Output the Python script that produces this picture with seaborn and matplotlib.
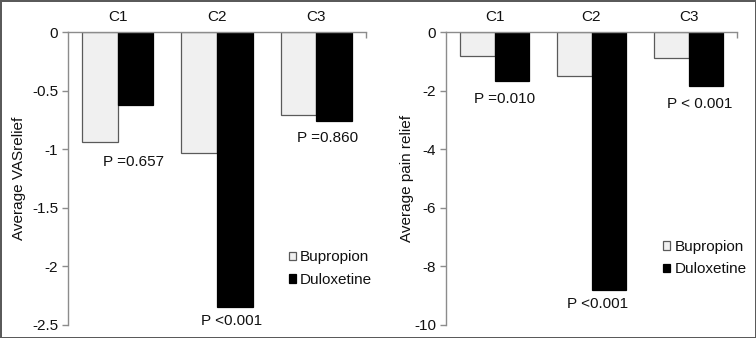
import numpy as np
import pandas as pd
import matplotlib
matplotlib.use("Agg")
import matplotlib.pyplot as plt
from matplotlib.ticker import FuncFormatter, MultipleLocator
import seaborn as sns

# data
conditions = ["C1", "C2", "C3"]
drugs = ["Bupropion", "Duloxetine"]
vas_bupropion = [-0.94, -1.03, -0.71]
vas_duloxetine = [-0.62, -2.35, -0.76]
pain_bupropion = [-0.81, -1.50, -0.88]
pain_duloxetine = [-1.67, -8.81, -1.84]
vas_pvalues = ["P =0.657", "P <0.001", "P =0.860"]
pain_pvalues = ["P =0.010", "P <0.001", "P < 0.001"]

sns.set_style("white")
plt.rcParams["font.family"] = ["Liberation Sans", "DejaVu Sans"]
FS = 11

TXT = "#111111"
AXC = "#8c8c8c"
colors = {"Bupropion": "#f0f0f0", "Duloxetine": "#000000"}


def make_frame(bup, dul):
    rows = []
    for c, b, d in zip(conditions, bup, dul):
        rows.append((c, "Bupropion", b))
        rows.append((c, "Duloxetine", d))
    return pd.DataFrame(rows, columns=["cond", "drug", "value"])


fig = plt.figure(figsize=(7.56, 3.38), dpi=100, linewidth=2, edgecolor="#5a5a5a")
ax1 = fig.add_axes([68 / 756, 13 / 338, 298 / 756, 293 / 338])
ax2 = fig.add_axes([446 / 756, 13 / 338, 291 / 756, 293 / 338])

panels = [
    # ax, bup, dul, ylabel, ylim, step, pvalue texts, text spots, legend spot, label x
    (ax1, vas_bupropion, vas_duloxetine, "Average VASrelief", -2.5, 0.5, vas_pvalues,
     [(0.16, -1.11), (1.15, -2.47), (2.11, -0.905)], (0.74, 0.255), -0.14),
    (ax2, pain_bupropion, pain_duloxetine, "Average pain relief", -10, 2, pain_pvalues,
     [(0.10, -2.30), (1.06, -9.28), (2.12, -2.46)], (0.745, 0.29), -0.11),
]

for ax, bup, dul, ylab, ymin, step, ptxt, spots, legpos, labx in panels:
    df = make_frame(bup, dul)
    sns.barplot(data=df, x="cond", y="value", hue="drug", order=conditions,
                hue_order=drugs, palette=colors, width=0.72, saturation=1,
                errorbar=None, ax=ax, legend=False)
    for patch in ax.containers[0]:
        patch.set_edgecolor("#5a5a5a")
        patch.set_linewidth(0.9)
    for patch in ax.containers[1]:
        patch.set_edgecolor("#000000")
        patch.set_linewidth(0.9)

    ax.set_xlim(-0.5, 2.5)
    ax.set_ylim(ymin, 0)
    ax.yaxis.set_major_locator(MultipleLocator(step))
    ax.yaxis.set_major_formatter(FuncFormatter(lambda v, p: "%g" % v if abs(v) > 1e-9 else "0"))

    ax.xaxis.tick_top()
    ax.set_xlabel("")
    ax.tick_params(axis="x", which="major", length=0, pad=5.5, colors=TXT, labelsize=FS)
    ax.set_xticks([2.5], minor=True)
    ax.tick_params(axis="x", which="minor", top=True, bottom=False, direction="in",
                   length=4, color=AXC, width=1)
    ax.tick_params(axis="y", left=True, length=4, width=1, color=AXC, pad=3,
                   labelcolor=TXT, labelsize=FS)

    for side in ["right", "bottom"]:
        ax.spines[side].set_visible(False)
    for side in ["left", "top"]:
        ax.spines[side].set_color(AXC)
        ax.spines[side].set_linewidth(1)

    ax.set_ylabel(ylab, color=TXT, fontsize=FS)
    ax.yaxis.set_label_coords(labx, 0.5)

    for (x, y), t in zip(spots, ptxt):
        ax.text(x, y, t, ha="center", va="center", color=TXT, fontsize=FS)

    ax.legend(ax.containers, drugs, loc="upper left", bbox_to_anchor=legpos,
              frameon=False, handlelength=0.5, handleheight=0.5, handletextpad=0.25,
              labelspacing=0.55, borderpad=0, borderaxespad=0, fontsize=FS,
              labelcolor=TXT)

fig.savefig("out.png", dpi=100, edgecolor=fig.get_edgecolor())
